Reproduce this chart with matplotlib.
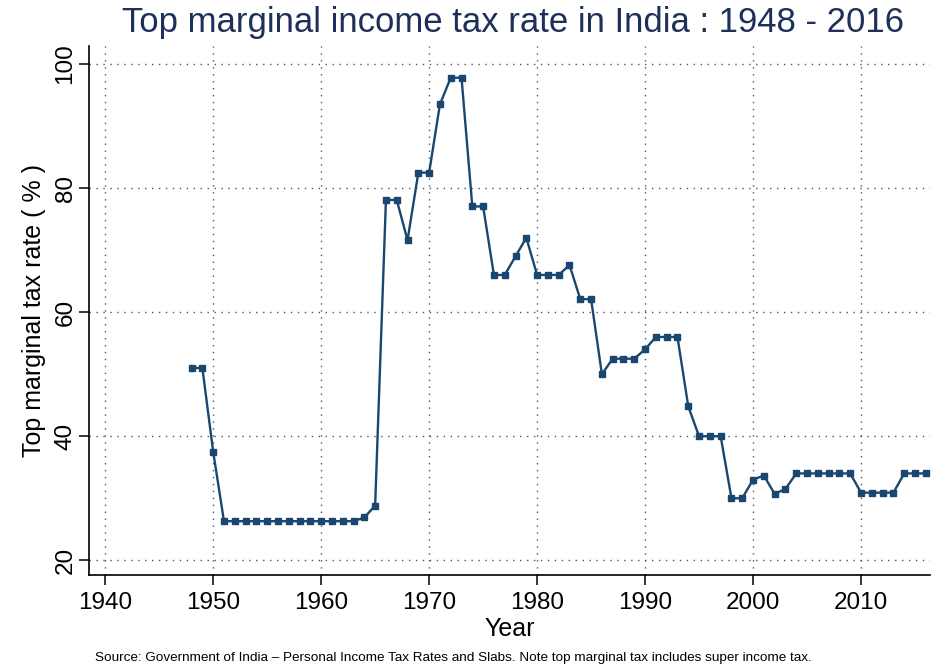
import matplotlib.pyplot as plt

plt.rcParams['font.family'] = ['Liberation Sans', 'DejaVu Sans']

navy = '#1a476f'
title_navy = '#1e2f5a'

years = list(range(1948, 2017))
top_rate = [
    51.0, 51.0, 37.5,
    26.3, 26.3, 26.3, 26.3, 26.3, 26.3, 26.3, 26.3, 26.3, 26.3, 26.3, 26.3, 26.3,
    26.9, 28.8,
    78.1, 78.1, 71.6, 82.5, 82.5, 93.5, 97.8, 97.8, 77.05, 77.05,
    66.0, 66.0, 69.0, 72.0, 66.0, 66.0, 66.0, 67.6, 62.1, 62.1,
    50.0, 52.5, 52.5, 52.5, 54.0, 56.0, 56.0, 56.0, 44.8,
    40.0, 40.0, 40.0, 30.0, 30.0, 33.0, 33.66, 30.7, 31.5,
    34.0, 34.0, 34.0, 34.0, 34.0, 34.0,
    30.9, 30.9, 30.9, 30.9,
    34.0, 34.0, 34.0,
]
x_ticks = [1940, 1950, 1960, 1970, 1980, 1990, 2000, 2010]
y_ticks = [20, 40, 60, 80, 100]

fig = plt.figure(figsize=(9.32, 6.68), dpi=100)
ax = fig.add_axes([0.0955, 0.139, 0.9025, 0.792])

ax.plot(years, top_rate, color=navy, lw=1.7, marker='s', ms=4.5, zorder=3)

ax.set_xlim(1938.5, 2016.4)
ax.set_ylim(17.6, 102.9)
ax.set_xticks(x_ticks)
ax.set_yticks(y_ticks)
ax.grid(True, linestyle=(0, (1, 4)), color='#555555', lw=1.0)

for s in ['top', 'right']:
    ax.spines[s].set_visible(False)
ax.spines['left'].set_linewidth(1.2)
ax.spines['bottom'].set_linewidth(1.2)
ax.tick_params(labelsize=17.5, length=7, width=1.1)
ax.tick_params(axis='x', pad=5)
ax.tick_params(axis='y', pad=2)
plt.setp(ax.get_yticklabels(), rotation=90, va='center')

ax.set_xlabel('Year', fontsize=18, labelpad=2)
ax.set_ylabel('Top marginal tax rate ( % )', fontsize=18, labelpad=6)

fig.text(0.55, 0.967, 'Top marginal income tax rate in India : 1948 - 2016',
         ha='center', va='center', fontsize=25, color=title_navy)
fig.text(0.486, 0.015,
         'Source: Government of India \u2013 Personal Income Tax Rates and Slabs. '
         'Note top marginal tax includes super income tax.',
         ha='center', va='center', fontsize=9.7)

fig.savefig('out.png', dpi=100)
